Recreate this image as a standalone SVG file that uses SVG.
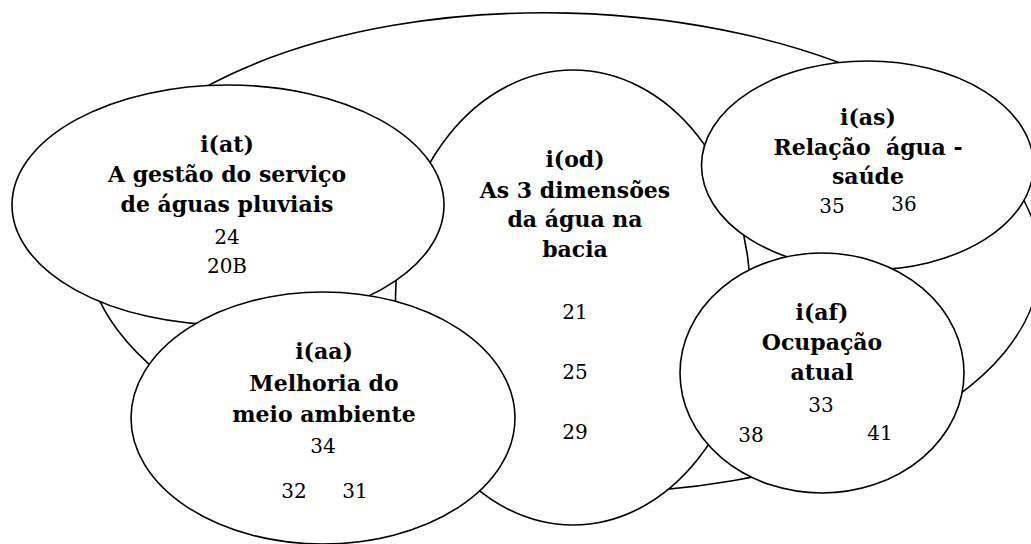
<svg xmlns="http://www.w3.org/2000/svg" width="1031" height="544" viewBox="0 0 1031 544">
<style>
.sh{fill:#fff;stroke:#000;stroke-width:1.6}
.t{font-family:"DejaVu Serif","Liberation Serif",serif;font-weight:bold;font-size:22px;text-anchor:middle;fill:#000}
.n{font-family:"DejaVu Serif","Liberation Serif",serif;font-size:20px;text-anchor:middle;fill:#000}
</style>
<rect width="1031" height="544" fill="#fff"/>
<g id="bacia"><ellipse class="sh" cx="563" cy="253" rx="477" ry="240" transform="rotate(1.5 563 253)"/></g>
<g id="od">
<ellipse class="sh" cx="573" cy="297.5" rx="177.5" ry="227.5"/>
<text class="t" x="575" y="167">i(od)</text>
<text class="t" x="575" y="198">As 3 dimensões</text>
<text class="t" x="575" y="227">da água na</text>
<text class="t" x="575" y="257">bacia</text>
<text class="n" x="575" y="319">21</text>
<text class="n" x="575" y="379">25</text>
<text class="n" x="575" y="439">29</text>
</g>
<g id="at">
<ellipse class="sh" cx="228" cy="205" rx="216" ry="120"/>
<text class="t" x="227" y="152">i(at)</text>
<text class="t" x="227" y="182">A gestão do serviço</text>
<text class="t" x="227" y="212">de águas pluviais</text>
<text class="n" x="227" y="244">24</text>
<text class="n" x="227" y="273">20B</text>
</g>
<g id="as">
<ellipse class="sh" cx="867.5" cy="165.5" rx="166" ry="104.5"/>
<text class="t" x="868" y="125">i(as)</text>
<text class="t" x="868" y="155" xml:space="preserve">Relação  água -</text>
<text class="t" x="868" y="184">saúde</text>
<text class="n" x="832" y="213">35</text>
<text class="n" x="904" y="211">36</text>
</g>
<g id="aa">
<ellipse class="sh" cx="323" cy="418" rx="192" ry="126"/>
<text class="t" x="324" y="359">i(aa)</text>
<text class="t" x="324" y="391">Melhoria do</text>
<text class="t" x="324" y="422">meio ambiente</text>
<text class="n" x="323" y="453">34</text>
<text class="n" x="294" y="498">32</text>
<text class="n" x="355" y="498">31</text>
</g>
<g id="af">
<ellipse class="sh" cx="822" cy="373" rx="142" ry="120"/>
<text class="t" x="822" y="320">i(af)</text>
<text class="t" x="822" y="350">Ocupação</text>
<text class="t" x="822" y="380">atual</text>
<text class="n" x="821" y="412">33</text>
<text class="n" x="751" y="442">38</text>
<text class="n" x="880" y="440">41</text>
</g>
<g id="connectors"></g>
</svg>
